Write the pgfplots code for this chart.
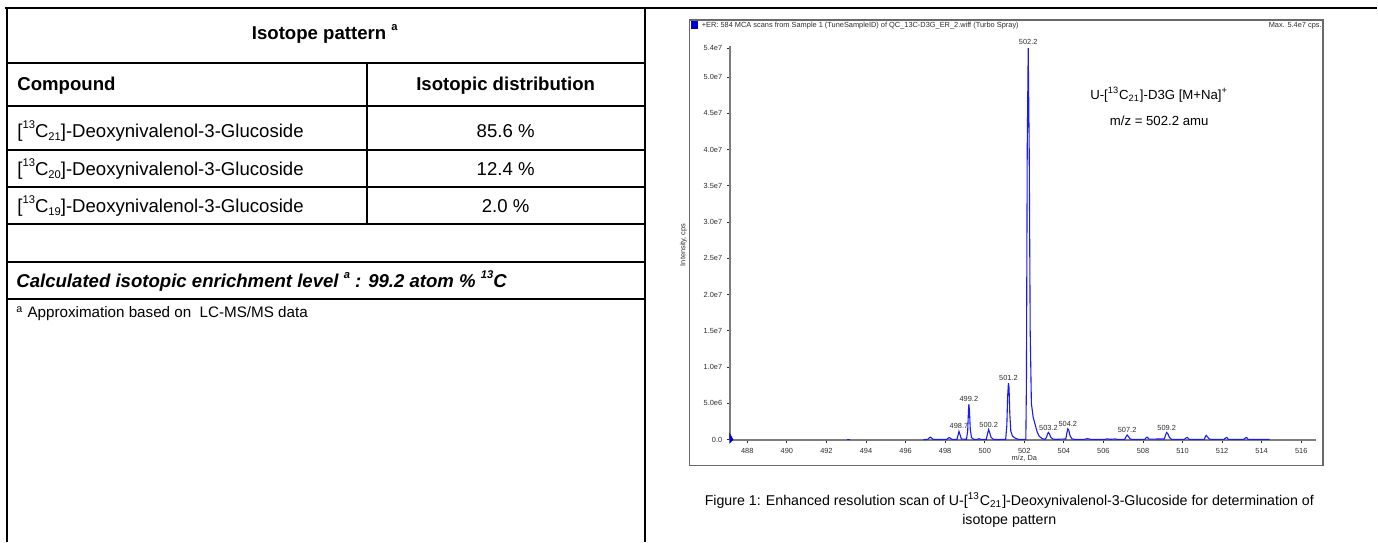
\documentclass[border=0pt]{standalone}
\usepackage{fontspec}
\setmainfont{Liberation Sans}
\usepackage{pgfplots}
\pgfplotsset{compat=1.18}
\definecolor{specblue}{RGB}{25,25,255}
\definecolor{framegray}{RGB}{105,105,105}
\definecolor{axisgray}{RGB}{125,125,125}
\definecolor{txtgray}{RGB}{45,45,45}

\newcommand{\tabfont}{\fontsize{9.3}{11}\selectfont}
\newcommand{\smallfont}{\fontsize{3.7}{4.4}\selectfont}
\newcommand{\sups}[1]{\raisebox{0.9ex}{\fontsize{5.6}{6}\selectfont #1}}
\newcommand{\subs}[1]{\raisebox{-0.3ex}{\fontsize{5.6}{6}\selectfont #1}}

\begin{document}
\begin{tikzpicture}[x=0.5pt,y=-0.5pt]
\path (0,0) rectangle (1378,542);

% table frame
\draw[line width=1pt] (5,8) -- (1378,8);
\draw[line width=1pt] (7,8) -- (7,542);
\draw[line width=1pt] (645,8) -- (645,542);
\foreach \yy in {63,106,150,187,224,262,299}
  \draw[line width=1pt] (7,\yy) -- (645,\yy);
\draw[line width=1pt] (367,63) -- (367,224);

% table text
\node[font=\tabfont\bfseries] at (325,34) {Isotope pattern \sups{a}};
\node[font=\tabfont\bfseries, anchor=west, inner sep=0] at (17,86) {Compound};
\node[font=\tabfont\bfseries] at (506,86) {Isotopic distribution};
\node[font=\tabfont, anchor=west, inner sep=0] at (17,131) {[\sups{13}C\subs{21}]-Deoxynivalenol-3-Glucoside};
\node[font=\tabfont, anchor=west, inner sep=0] at (17,169) {[\sups{13}C\subs{20}]-Deoxynivalenol-3-Glucoside};
\node[font=\tabfont, anchor=west, inner sep=0] at (17,206) {[\sups{13}C\subs{19}]-Deoxynivalenol-3-Glucoside};
\node[font=\tabfont] at (506,131) {85.6 \%};
\node[font=\tabfont] at (506,169) {12.4 \%};
\node[font=\tabfont] at (506,206) {2.0 \%};
\node[font=\tabfont\bfseries\itshape, anchor=west, inner sep=0] at (16,281)
  {Calculated isotopic enrichment level \sups{a} : 99.2 atom \% \sups{13}C};
\node[font=\fontsize{7.6}{9}\selectfont, anchor=west, inner sep=0] at (16,314)
  {\textsuperscript{a} Approximation based on~ LC-MS/MS data};

% spectrum frame
\draw[framegray, line width=0.6pt] (690,20) rectangle (1324,466);
\fill[blue!80!black] (691,21) rectangle (698,29);
\node[font=\smallfont, text=txtgray, anchor=west, inner sep=0] at (702,26)
  {+ER: 584 MCA scans from Sample 1 (TuneSampleID) of QC\_13C-D3G\_ER\_2.wiff (Turbo Spray)};
\node[font=\smallfont, text=txtgray, anchor=east, inner sep=0] at (1323,26) {Max. 5.4e7 cps.};

\coordinate (specorigin) at (731,440);
\begin{axis}[
  at={(specorigin)}, anchor=south west,
  scale only axis, width=293pt, height=197pt,
  xmin=487.15, xmax=516.75, ymin=0, ymax=54.28,
  axis x line*=bottom, axis y line*=left,
  axis line style={axisgray, line width=1pt},
  xtick={488,490,...,516}, minor x tick num=1,
  ytick={0,5,10,15,20,25,30,35,40,45,50,54},
  yticklabels={0.0,5.0e6,1.0e7,1.5e7,2.0e7,2.5e7,3.0e7,3.5e7,4.0e7,4.5e7,5.0e7,5.4e7},
  minor ytick={1,2,3,4,6,7,8,9,11,12,13,14,16,17,18,19,21,22,23,24,26,27,28,29,31,32,33,34,36,37,38,39,41,42,43,44,46,47,48,49,51,52,53},
  tick align=outside,
  major tick length=1.6pt, minor tick length=0.8pt,
  tick style={txtgray, line width=0.4pt},
  ticklabel style={font=\smallfont, text=txtgray},
  /pgf/number format/assume math mode=true,
  xticklabel style={yshift=1pt},
  yticklabel style={xshift=1pt},
  clip=false,
]
\addplot[specblue, line width=0.55pt] coordinates {(493.05,0.04) (493.18,0.04)};
\addplot[specblue, line width=0.55pt] coordinates {
(496.9,0) (497.12,0.05) (497.2,0.25) (497.25,0.35) (497.3,0.25) (497.4,0.05)
(498.08,0.05) (498.15,0.2) (498.2,0.3) (498.26,0.2) (498.35,0.05)
(498.6,0.05) (498.66,0.7) (498.7,1.15) (498.74,0.8) (498.82,0.1)
(499.08,0.05) (499.14,1.2) (499.18,4.0) (499.2,4.9) (499.23,4.0) (499.27,1.5) (499.33,0.3) (499.45,0.05)
(499.65,0.05) (499.7,0.15) (499.8,0.05)
(500.08,0.05) (500.15,0.9) (500.2,1.4) (500.25,1.0) (500.32,0.35) (500.42,0.08) (500.55,0.02)
(501.06,0.05) (501.12,2.0) (501.16,6.0) (501.2,7.8) (501.23,7.2) (501.27,3.5) (501.32,1.2)
(501.4,0.5) (501.55,0.2) (501.7,0.05)
(502.08,0.05) (502.11,8) (502.15,40) (502.2,54.0) (502.25,40) (502.3,15) (502.36,5)
(502.45,3.1) (502.55,2.1) (502.65,1.1) (502.75,0.5) (502.9,0.15) (503.05,0.05)
(503.12,0.3) (503.18,0.8) (503.22,1.0) (503.27,0.8) (503.35,0.3) (503.45,0.08) (503.6,0.05)
(504.1,0.1) (504.16,1.0) (504.2,1.5) (504.25,1.3) (504.32,0.5) (504.42,0.1) (504.55,0.05)
(505.05,0.05) (505.2,0.15) (505.35,0.05)
(506.1,0.05) (506.2,0.12) (506.35,0.05) (506.6,0.1) (506.7,0.05)
(507.08,0.05) (507.15,0.45) (507.2,0.65) (507.26,0.45) (507.35,0.1) (507.45,0.05)
(508.1,0.05) (508.17,0.3) (508.22,0.35) (508.3,0.08)
(509.08,0.1) (509.15,0.7) (509.2,1.0) (509.26,0.8) (509.34,0.3) (509.45,0.05)
(510.1,0.05) (510.18,0.25) (510.24,0.3) (510.34,0.05)
(511.1,0.05) (511.16,0.45) (511.2,0.6) (511.26,0.4) (511.35,0.1) (511.45,0.05)
(512.1,0.05) (512.18,0.25) (512.24,0.3) (512.32,0.05)
(513.1,0.05) (513.18,0.25) (513.24,0.3) (513.32,0.05)
(514.4,0.05)
};
\begin{scope}[every node/.style={font=\smallfont, text=txtgray, anchor=south, inner sep=0.6pt}]
\node at (axis cs:502.2,54.3) {502.2};
\node at (axis cs:501.2,7.9) {501.2};
\node at (axis cs:499.2,5.0) {499.2};
\node at (axis cs:498.7,1.25) {498.7};
\node at (axis cs:500.2,1.5) {500.2};
\node at (axis cs:503.22,1.1) {503.2};
\node at (axis cs:504.2,1.6) {504.2};
\node at (axis cs:507.2,0.75) {507.2};
\node at (axis cs:509.2,1.1) {509.2};
\end{scope}
\end{axis}

\fill[blue!80!black] (730,433) -- (734,440) -- (730,444) -- cycle;
\node[font=\smallfont, text=txtgray, rotate=90] at (684,245) {Intensity, cps};
\node[font=\smallfont, text=txtgray] at (1025,459) {m/z, Da};

\node[font=\fontsize{6.6}{8}\selectfont] at (1160,95) {U-[\textsuperscript{13}C\textsubscript{21}]-D3G [M+Na]\textsuperscript{+}};
\node[font=\fontsize{6.6}{8}\selectfont] at (1160,121) {m/z = 502.2 amu};

% caption
\node[font=\fontsize{7.1}{8.5}\selectfont] at (1010,501)
  {Figure 1: Enhanced resolution scan of U-[\textsuperscript{13}C\textsubscript{21}]-Deoxynivalenol-3-Glucoside for determination of};
\node[font=\fontsize{7.1}{8.5}\selectfont] at (1010,521) {isotope pattern};
\end{tikzpicture}
\end{document}
